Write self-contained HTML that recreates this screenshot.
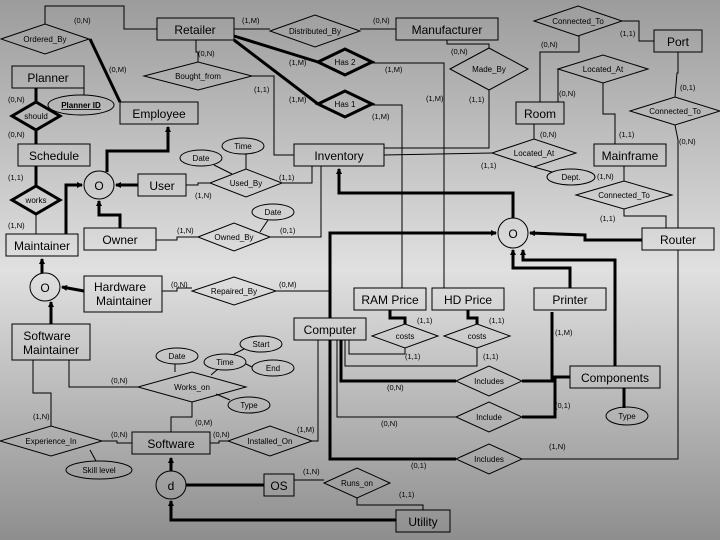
<!DOCTYPE html>
<html><head><meta charset="utf-8"><style>
html,body{margin:0;padding:0;width:720px;height:540px;overflow:hidden}
svg{display:block}
text{font-family:"Liberation Sans",sans-serif;fill:#000}
.e{font-size:12px}
.r{font-size:8px}
.c{font-size:7.5px}
</style></head><body>
<svg width="720" height="540" viewBox="0 0 720 540" xmlns="http://www.w3.org/2000/svg">
<defs>
<linearGradient id="bg" x1="0" y1="0" x2="0" y2="1">
<stop offset="0" stop-color="#9c9c9c"/>
<stop offset="0.5" stop-color="#e0e0e0"/>
<stop offset="1" stop-color="#8e8e8e"/>
</linearGradient>
<marker id="ar" markerWidth="6" markerHeight="6" refX="5" refY="3" orient="auto" markerUnits="userSpaceOnUse"><path d="M0,0 L6,3 L0,6 z" fill="#000"/></marker>
</defs>
<rect width="720" height="540" fill="url(#bg)"/>

<g fill="none" stroke="#000" stroke-width="1">
<!-- thin lines -->
<polyline points="45,24 45,6 124,6 124,29 157,29"/>
<line x1="234" y1="29" x2="270" y2="29"/>
<line x1="360" y1="29" x2="396" y2="29"/>
<polyline points="196,40 196,52 198,52 198,62"/>
<polyline points="252,76 274,76 274,155 294,155"/>
<polyline points="372,63 444,63 444,288"/>
<polyline points="372,105 402,105 402,288"/>
<polyline points="447,40 447,44 489,44 489,48"/>
<polyline points="489,90 489,148 384,148"/>
<line x1="384" y1="155" x2="492" y2="153"/>
<line x1="534" y1="139" x2="534" y2="124"/>
<polyline points="540,102 540,52 579,52 579,36"/>
<polyline points="622,21 639,21 639,41 654,41"/>
<line x1="558" y1="69" x2="558" y2="102"/>
<polyline points="603,83 603,114 615,114 615,144"/>
<polyline points="678,52 678,73 677,73 675,97"/>
<polyline points="675,125 678,140 678,228"/>
<polyline points="678,250 678,459 522,459"/>
<line x1="624" y1="166" x2="624" y2="181"/>
<polyline points="624,209 624,216 666,216 666,228"/>
<line x1="534" y1="167" x2="552" y2="172"/>
<line x1="246" y1="154" x2="246" y2="169"/>
<line x1="214" y1="165" x2="232" y2="174"/>
<polyline points="282,183 312,183 312,166"/>
<polyline points="210,183 198,183 198,185 186,185"/>
<polyline points="156,240 177,240 177,237 198,237"/>
<polyline points="270,237 321,237 321,166"/>
<line x1="268" y1="220" x2="260" y2="232"/>
<polyline points="162,291 177,291 177,288 192,288"/>
<polyline points="276,291 330,291"/>
<line x1="84" y1="88" x2="84" y2="95"/>
<line x1="36" y1="214" x2="36" y2="234"/>
<polyline points="33,360 33,393 51,393 51,426"/>
<polyline points="69,360 69,387 138,387"/>
<polyline points="192,402 192,417 171,417 171,432"/>
<polyline points="102,441 117,441 117,443 132,443"/>
<polyline points="210,443 219,443 219,441 228,441"/>
<polyline points="312,441 318,441 318,340"/>
<line x1="90" y1="450" x2="96" y2="461"/>
<line x1="175" y1="364" x2="175" y2="372"/>
<line x1="211" y1="375" x2="218" y2="369"/>
<line x1="234" y1="354" x2="244" y2="349"/>
<line x1="246" y1="364" x2="252" y2="367"/>
<line x1="216" y1="394" x2="230" y2="400"/>
<polyline points="294,480 324,480"/>
<polyline points="357,498 357,505 423,505 423,510"/>
<polyline points="349,340 349,354 405,354 405,348"/>
<polyline points="345,340 345,366 477,366 477,348"/>
<polyline points="337,340 337,417 456,417"/>
</g>

<g fill="none" stroke="#000" stroke-width="3">
<line x1="90" y1="39" x2="120" y2="102"/>
<line x1="234" y1="36" x2="318" y2="62"/>
<line x1="234" y1="40" x2="318" y2="104"/>
<line x1="36" y1="88" x2="36" y2="102"/>
<line x1="36" y1="130" x2="36" y2="144"/>
<line x1="36" y1="166" x2="36" y2="186"/>
<polyline points="66,234 66,185 82,185" marker-end="url(#ar)"/>
<polyline points="138,185 116,185" marker-end="url(#ar)"/>
<polyline points="120,228 120,215 99,215 99,201" marker-end="url(#ar)"/>
<polyline points="107,172 107,151 168,151 168,127" marker-end="url(#ar)"/>
<polyline points="42,273 42,259" marker-end="url(#ar)"/>
<polyline points="84,291 62,287" marker-end="url(#ar)"/>
<polyline points="51,324 51,302" marker-end="url(#ar)"/>
<polyline points="513,218 513,193 339,193 339,169" marker-end="url(#ar)"/>
<polyline points="330,318 330,233 496,233" marker-end="url(#ar)"/>
<polyline points="642,240 585,240 585,235 530,233" marker-end="url(#ar)"/>
<polyline points="570,288 570,268 513,268 513,250" marker-end="url(#ar)"/>
<polyline points="615,366 615,260 523,260 523,250" marker-end="url(#ar)"/>
<polyline points="390,310 390,318 405,318 405,324"/>
<polyline points="468,310 468,318 477,318 477,324"/>
<polyline points="341,340 341,381 456,381"/>
<polyline points="330,340 330,459 456,459"/>
<polyline points="522,381 552,381 552,312"/>
<polyline points="522,417 555,417 555,377 570,377"/>
<line x1="624" y1="388" x2="624" y2="408"/>
<polyline points="171,471 171,458" marker-end="url(#ar)"/>
<line x1="186" y1="485" x2="264" y2="485"/>
<polyline points="396,520 171,520 171,501" marker-end="url(#ar)"/>
</g>

<!-- entities -->
<g fill="none" stroke="#000" stroke-width="1">
<rect x="157" y="18" width="77" height="22"/>
<rect x="396" y="18" width="102" height="22"/>
<rect x="654" y="30" width="48" height="22"/>
<rect x="12" y="66" width="72" height="22"/>
<rect x="120" y="102" width="78" height="22"/>
<rect x="18" y="144" width="72" height="22"/>
<rect x="294" y="144" width="90" height="22"/>
<rect x="516" y="102" width="48" height="22"/>
<rect x="594" y="144" width="72" height="22"/>
<rect x="138" y="174" width="48" height="22"/>
<rect x="6" y="234" width="72" height="22"/>
<rect x="84" y="228" width="72" height="22"/>
<rect x="642" y="228" width="72" height="22"/>
<rect x="84" y="276" width="78" height="36"/>
<rect x="354" y="288" width="72" height="22"/>
<rect x="432" y="288" width="72" height="22"/>
<rect x="534" y="288" width="72" height="22"/>
<rect x="294" y="318" width="72" height="22"/>
<rect x="12" y="324" width="78" height="36"/>
<rect x="570" y="366" width="90" height="22"/>
<rect x="132" y="432" width="78" height="22"/>
<rect x="264" y="474" width="30" height="22"/>
<rect x="396" y="510" width="54" height="22"/>
<ellipse cx="99" cy="185" rx="15" ry="14"/>
<ellipse cx="45" cy="287" rx="15" ry="14"/>
<ellipse cx="513" cy="233" rx="15" ry="15"/>
<ellipse cx="171" cy="485" rx="15" ry="14"/>
<!-- attributes -->
<ellipse cx="81" cy="105" rx="33" ry="10"/>
<ellipse cx="243" cy="146" rx="21" ry="8"/>
<ellipse cx="201" cy="158" rx="21" ry="8"/>
<ellipse cx="273" cy="212" rx="21" ry="8"/>
<ellipse cx="571" cy="177" rx="24" ry="8"/>
<ellipse cx="177" cy="356" rx="21" ry="8"/>
<ellipse cx="225" cy="362" rx="21" ry="8"/>
<ellipse cx="261" cy="344" rx="21" ry="8"/>
<ellipse cx="273" cy="368" rx="21" ry="8"/>
<ellipse cx="249" cy="405" rx="21" ry="8"/>
<ellipse cx="99" cy="470" rx="33" ry="9"/>
<ellipse cx="627" cy="416" rx="21" ry="9"/>
<!-- relationships -->
<polygon points="1,39 45,24 89,39 45,54"/>
<polygon points="270,31 315,15 360,31 315,47"/>
<polygon points="144,76 198,62 252,76 198,90"/>
<polygon points="210,183 246,169 282,183 246,197"/>
<polygon points="198,237 234,223 270,237 234,251"/>
<polygon points="192,291 234,277 276,291 234,305"/>
<polygon points="138,387 192,372 246,387 192,402"/>
<polygon points="0,441 51,426 102,441 51,456"/>
<polygon points="228,441 270,426 312,441 270,456"/>
<polygon points="324,483 357,468 390,483 357,498"/>
<polygon points="450,69 489,48 528,69 489,90"/>
<polygon points="534,21 578,6 622,21 578,36"/>
<polygon points="558,69 603,55 648,69 603,83"/>
<polygon points="630,111 675,97 720,111 675,125"/>
<polygon points="492,153 534,139 576,153 534,167"/>
<polygon points="576,195 624,181 672,195 624,209"/>
<polygon points="372,336 405,324 438,336 405,348"/>
<polygon points="444,336 477,324 510,336 477,348"/>
<polygon points="456,381 489,366 522,381 489,396"/>
<polygon points="456,417 489,402 522,417 489,432"/>
<polygon points="456,459 489,444 522,459 489,474"/>
</g>
<g fill="none" stroke="#000" stroke-width="3">
<polygon points="318,62 345,49 372,62 345,75"/>
<polygon points="318,104 345,91 372,104 345,117"/>
<polygon points="12,116 36,102 60,116 36,130"/>
<polygon points="12,200 36,186 60,200 36,214"/>
</g>

<g class="e" text-anchor="middle">
<text x="195" y="34">Retailer</text>
<text x="447" y="34">Manufacturer</text>
<text x="678" y="46">Port</text>
<text x="48" y="82">Planner</text>
<text x="159" y="118">Employee</text>
<text x="54" y="160">Schedule</text>
<text x="339" y="160">Inventory</text>
<text x="540" y="118">Room</text>
<text x="630" y="160">Mainframe</text>
<text x="162" y="190">User</text>
<text x="42" y="250">Maintainer</text>
<text x="120" y="244">Owner</text>
<text x="678" y="244">Router</text>
<text x="120" y="291">Hardware</text>
<text x="124" y="305">Maintainer</text>
<text x="390" y="304">RAM Price</text>
<text x="468" y="304">HD Price</text>
<text x="570" y="304">Printer</text>
<text x="330" y="334">Computer</text>
<text x="47" y="340">Software</text>
<text x="51" y="354">Maintainer</text>
<text x="615" y="382">Components</text>
<text x="171" y="448">Software</text>
<text x="279" y="490">OS</text>
<text x="423" y="526">Utility</text>
<text x="99" y="190">O</text>
<text x="45" y="292">O</text>
<text x="513" y="238">O</text>
<text x="171" y="490">d</text>
</g>

<g class="r" text-anchor="middle">
<text x="45" y="42">Ordered_By</text>
<text x="315" y="34">Distributed_By</text>
<text x="345" y="65">Has 2</text>
<text x="345" y="107">Has 1</text>
<text x="198" y="79">Bought_from</text>
<text x="36" y="119">should</text>
<text x="36" y="203">works</text>
<text x="246" y="186">Used_By</text>
<text x="234" y="240">Owned_By</text>
<text x="234" y="294">Repaired_By</text>
<text x="192" y="390">Works_on</text>
<text x="51" y="444">Experience_In</text>
<text x="270" y="444">Installed_On</text>
<text x="357" y="486">Runs_on</text>
<text x="489" y="72">Made_By</text>
<text x="578" y="24">Connected_To</text>
<text x="603" y="72">Located_At</text>
<text x="675" y="114">Connected_To</text>
<text x="534" y="156">Located_At</text>
<text x="624" y="198">Connected_To</text>
<text x="405" y="339">costs</text>
<text x="477" y="339">costs</text>
<text x="489" y="384">Includes</text>
<text x="489" y="420">Include</text>
<text x="489" y="462">Includes</text>
<text x="81" y="108" font-weight="bold" text-decoration="underline">Planner ID</text>
<text x="243" y="149">Time</text>
<text x="201" y="161">Date</text>
<text x="273" y="215">Date</text>
<text x="571" y="180">Dept.</text>
<text x="177" y="359">Date</text>
<text x="225" y="365">Time</text>
<text x="261" y="347">Start</text>
<text x="273" y="371">End</text>
<text x="249" y="408">Type</text>
<text x="99" y="473">Skill level</text>
<text x="627" y="419">Type</text>
</g>

<g class="c">
<text x="74" y="23">(0,N)</text>
<text x="242" y="23">(1,M)</text>
<text x="373" y="23">(0,N)</text>
<text x="620" y="36">(1,1)</text>
<text x="541" y="47">(0,N)</text>
<text x="198" y="56">(0,N)</text>
<text x="451" y="54">(0,N)</text>
<text x="289" y="65">(1,M)</text>
<text x="385" y="72">(1,M)</text>
<text x="109" y="72">(0,M)</text>
<text x="254" y="92">(1,1)</text>
<text x="289" y="102">(1,M)</text>
<text x="426" y="101">(1,M)</text>
<text x="469" y="102">(1,1)</text>
<text x="559" y="96">(0,N)</text>
<text x="680" y="90">(0,1)</text>
<text x="8" y="102">(0,N)</text>
<text x="372" y="119">(1,M)</text>
<text x="540" y="137">(0,N)</text>
<text x="619" y="137">(1,1)</text>
<text x="679" y="144">(0,N)</text>
<text x="8" y="137">(0,N)</text>
<text x="481" y="168">(1,1)</text>
<text x="597" y="179">(1,N)</text>
<text x="8" y="180">(1,1)</text>
<text x="279" y="180">(1,1)</text>
<text x="195" y="198">(1,N)</text>
<text x="600" y="221">(1,1)</text>
<text x="8" y="228">(1,N)</text>
<text x="177" y="233">(1,N)</text>
<text x="280" y="233">(0,1)</text>
<text x="171" y="287">(0,N)</text>
<text x="279" y="287">(0,M)</text>
<text x="417" y="323">(1,1)</text>
<text x="489" y="323">(1,1)</text>
<text x="555" y="335">(1,M)</text>
<text x="405" y="359">(1,1)</text>
<text x="483" y="359">(1,1)</text>
<text x="111" y="383">(0,N)</text>
<text x="387" y="390">(0,N)</text>
<text x="555" y="408">(0,1)</text>
<text x="33" y="419">(1,N)</text>
<text x="381" y="426">(0,N)</text>
<text x="195" y="425">(0,M)</text>
<text x="297" y="432">(1,M)</text>
<text x="111" y="437">(0,N)</text>
<text x="213" y="437">(0,N)</text>
<text x="549" y="449">(1,N)</text>
<text x="411" y="468">(0,1)</text>
<text x="303" y="474">(1,N)</text>
<text x="399" y="497">(1,1)</text>
</g>
</svg>
</body></html>
